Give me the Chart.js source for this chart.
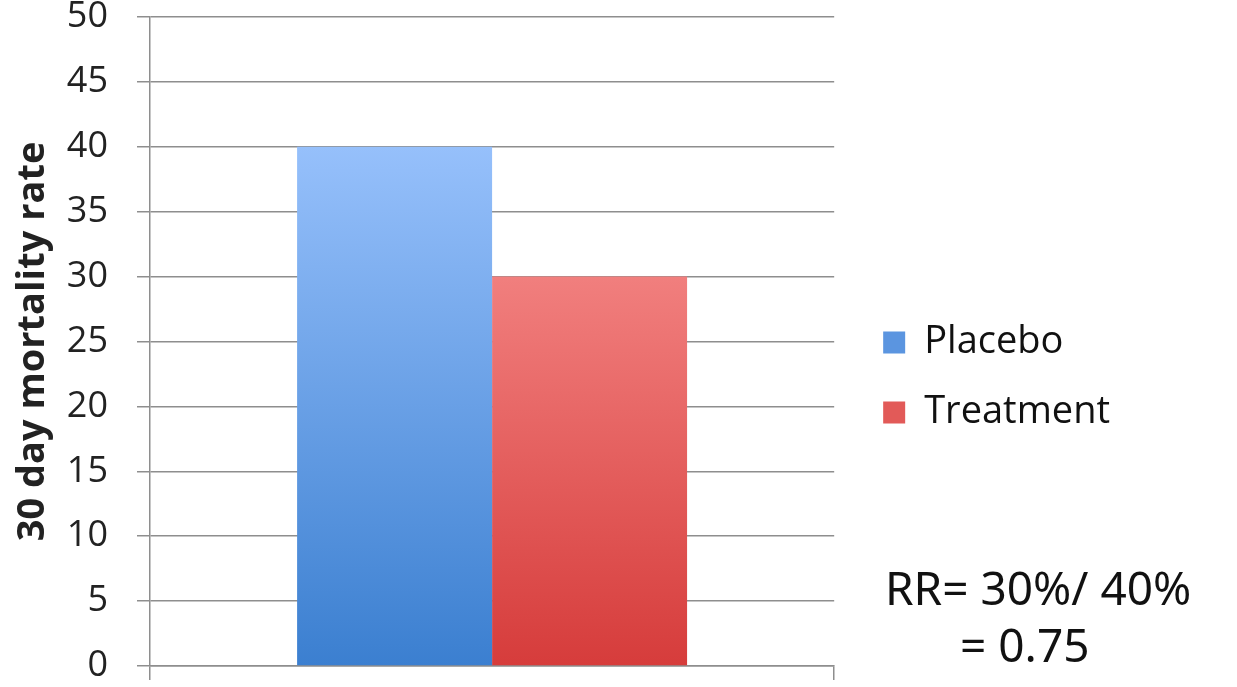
<!DOCTYPE html>
<html>
<head>
<meta charset="utf-8">
<script src="https://cdn.jsdelivr.net/npm/chart.js@4"></script>
<style>
  html, body { margin: 0; padding: 0; background: #fff; }
  #wrap { width: 1237px; height: 687px; }
</style>
</head>
<body>
<div id="wrap"><canvas id="chart" width="1237" height="687"></canvas></div>
<script>
// data
const categories = [''];
const placeboValues = [40];
const treatmentValues = [30];
const seriesNames = ['Placebo', 'Treatment'];
const yTicks = { min: 0, max: 50, step: 5 };
const noteLines = ['RR= 30%/ 40%', '= 0.75'];

const GRID = '#8e8e8e';
const FONT = '"Open Sans", sans-serif';

// vertical gradient for a bar, top -> bottom
function barGradient(top, bottom) {
  return function(context) {
    const chart = context.chart;
    const area = chart.chartArea;
    if (!area) return bottom;
    const g = chart.ctx.createLinearGradient(0, area.top, 0, area.bottom);
    g.addColorStop(0, top);
    g.addColorStop(0.2, top);
    g.addColorStop(1, bottom);
    return g;
  };
}

// nudge the legend a little away from the plot (padding also sets row spacing)
const legendShift = {
  id: 'legendShift',
  afterLayout(chart) {
    if (chart.legend) {
      chart.legend.left += 17;
      chart.legend.right += 17;
    }
  }
};

// handwritten-style note in the lower right corner
const notePlugin = {
  id: 'note',
  afterDraw(chart) {
    const ctx = chart.ctx;
    ctx.save();
    ctx.fillStyle = '#111';
    ctx.font = '46px "Noto Sans", sans-serif';
    ctx.textBaseline = 'alphabetic';
    ctx.fillText(noteLines[0], 885, 605);
    ctx.fillText(noteLines[1], 960, 662);
    ctx.restore();
  }
};

new Chart(document.getElementById('chart'), {
  type: 'bar',
  data: {
    labels: categories,
    datasets: [
      {
        label: seriesNames[0],
        data: placeboValues,
        backgroundColor: barGradient('#96c0fb', '#3b7fd0'),
        categoryPercentage: 0.57,
        barPercentage: 1.0
      },
      {
        label: seriesNames[1],
        data: treatmentValues,
        backgroundColor: barGradient('#fa9594', '#d63c3b'),
        categoryPercentage: 0.57,
        barPercentage: 1.0
      }
    ]
  },
  options: {
    responsive: false,
    animation: false,
    layout: { padding: { top: 17, right: 134, bottom: 7, left: 0 } },
    plugins: {
      tooltip: { enabled: false },
      legend: {
        position: 'right',
        title: { display: true, text: ' ', font: { size: 26 }, padding: { top: 13, bottom: 14 } },
        labels: {
          boxWidth: 22,
          boxHeight: 22,
          padding: 32,
          color: '#111',
          font: { family: FONT, size: 38, lineHeight: 0.56 },
          generateLabels(chart) {
            const solid = ['#5b95e0', '#e25a58'];
            return chart.data.datasets.map((ds, i) => ({
              text: ds.label,
              fillStyle: solid[i],
              strokeStyle: solid[i],
              fontColor: '#111',
              lineWidth: 0,
              datasetIndex: i
            }));
          }
        }
      }
    },
    scales: {
      x: {
        offset: true,
        grid: { offset: true, drawOnChartArea: false, drawTicks: true, tickLength: 14, color: GRID, lineWidth: 1.5 },
        border: { display: true, color: GRID, width: 1.5 },
        ticks: { display: false }
      },
      y: {
        min: yTicks.min,
        max: yTicks.max,
        afterFit(scale) {
          scale.width = 150;
          scale.paddingTop = 0;
          scale.paddingBottom = 0;
        },
        ticks: {
          stepSize: yTicks.step,
          color: '#222',
          padding: 29,
          font: { family: FONT, size: 36, lineHeight: 1.0 }
        },
        grid: { color: GRID, lineWidth: 1.5, tickLength: 13 },
        border: { display: true, color: GRID, width: 1.5 },
        title: {
          display: true,
          text: '30 day mortality rate',
          color: '#222',
          padding: { top: 10, bottom: 10 },
          font: { family: FONT, size: 38, weight: 'bold', lineHeight: 1.2 }
        }
      }
    }
  },
  plugins: [legendShift, notePlugin]
});
</script>
</body>
</html>
